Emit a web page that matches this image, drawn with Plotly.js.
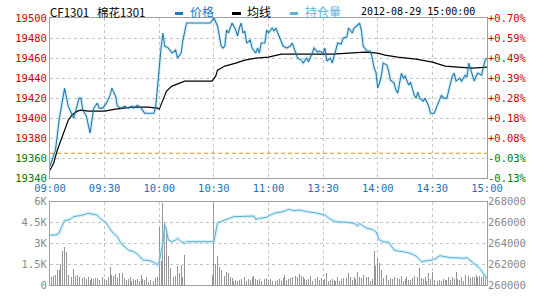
<!DOCTYPE html>
<html><head><meta charset="utf-8">
<script src="https://cdn.plot.ly/plotly-3.0.1.min.js"></script>
<style>html,body{margin:0;padding:0;background:#fff}#c{width:540px;height:300px}</style>
</head><body><div id="c"></div>
<script>
// ---- data ----
const prevSettle = 19365;
const timeTicks = [0,30,60,90,120,150,180,210,240];
const timeLabels = ['09:00','09:30','10:00','10:30','11:00','13:30','14:00','14:30','15:00'];
const priceTicks = [19340,19360,19380,19400,19420,19440,19460,19480,19500];
const pctLabels = ['-0.13%','-0.03%','+0.08%','+0.18%','+0.28%','+0.39%','+0.49%','+0.59%','+0.70%'];
const volTicks = [0,1500,3000,4500,6000];
const volLabels = ['0','1.5K','3K','4.5K','6K'];
const oiTicks = [260000,262000,264000,266000,268000];
const oiLabels = ['260000','262000','264000','266000','268000'];

const priceMin = [0,3,5,8,10,13,16,17,18,20,22,23,24,26,27,29,31,33,34,36,37,39,41,43,45,46,48,50,52,54,57,58,59,61,62,63,65,67,69,70,72,73,75,88,90,92,94,95,96,97,98,100,102,103,104,105,106,107,108,110,111,113,114,115,116,118,119,120,122,123,124,126,128,130,132,133,135,136,138,139,141,142,144,145,147,148,150,151,152,154,155,157,158,160,161,163,164,166,167,169,170,171,172,174,176,177,178,179,180,181,182,183,185,186,187,189,190,191,193,194,195,197,198,200,201,202,203,205,206,208,209,211,212,213,215,216,218,219,221,222,223,225,226,228,229,230,232,233,234,235,237,238,239,240];
const priceVal = [19352,19368,19398,19430,19412,19400,19420,19420,19408,19402,19385,19398,19410,19415,19410,19410,19415,19423,19430,19422,19412,19410,19412,19410,19412,19410,19413,19410,19405,19405,19405,19410,19432,19470,19485,19472,19470,19465,19468,19460,19465,19478,19495,19495,19500,19492,19472,19470,19472,19488,19485,19495,19488,19482,19490,19495,19485,19487,19475,19478,19470,19465,19470,19465,19475,19475,19488,19485,19490,19487,19490,19480,19472,19470,19472,19475,19465,19460,19458,19455,19460,19456,19465,19470,19466,19467,19465,19470,19457,19460,19455,19470,19475,19474,19480,19481,19490,19485,19490,19493,19495,19488,19472,19467,19467,19460,19450,19446,19430,19435,19443,19455,19453,19447,19438,19435,19428,19425,19445,19440,19442,19433,19436,19423,19420,19426,19420,19417,19420,19412,19405,19405,19410,19415,19423,19420,19420,19428,19442,19445,19437,19440,19437,19443,19441,19455,19443,19437,19442,19445,19443,19450,19458,19460];

const avgMin = [0,2,4,7,10,12,15,17,21,30,36,45,54,59,60,62,64,67,70,74,89,91,92,96,102,107,113,120,127,155,164,173,180,184,191,201,210,217,224,232,240];
const avgVal = [19348,19355,19368,19382,19398,19403,19407,19408,19407,19407,19409,19411,19411,19410,19409,19418,19427,19432,19434,19437,19437,19442,19448,19452,19455,19458,19460,19461,19464,19464,19465,19466,19465,19463,19461,19459,19456,19452,19451,19450,19451];

const oiMin = [0,3,5,6,8,11,13,16,18,21,23,26,27,30,31,34,37,39,43,46,48,51,55,58,59,60,62,63,64,65,67,69,70,72,74,75,90,92,94,96,101,106,112,113,115,119,121,124,128,131,134,137,141,145,148,151,154,157,163,167,169,170,174,177,179,181,183,186,189,190,194,198,201,204,207,210,212,214,217,220,223,227,229,231,233,236,238,240];
const oiVal = [264800,264800,264960,265440,266176,266304,266560,266624,266720,266880,266820,266720,266496,266080,265920,265120,264640,264000,263360,263200,262976,262400,262336,262080,261920,262240,264000,265760,265280,264320,264160,264320,264480,264160,264000,264160,264160,265984,266080,266240,266560,266560,266624,266304,266400,266496,266720,266944,267040,267264,267140,267200,267040,266960,266816,266720,266304,266080,266016,265920,265664,265920,265440,265350,265120,264320,264160,264100,263360,263300,263200,263040,262784,262240,262336,262400,262560,262816,262720,262624,262624,262560,262624,262336,262080,261600,261120,260640];

// volume per minute (minute 0..240), null during the 10:15-10:30 break
const volMorning = [840,552,648,720,1080,1080,1512,2472,2712,2376,720,960,600,1128,648,720,552,552,480,552,408,600,360,480,408,504,480,360,360,552,408,360,552,1272,720,648,792,480,888,552,840,480,360,408,552,312,408,360,408,312,720,408,360,552,240,360,408,312,480,552,4152,1752,5880,4440,3720,2088,1200,840,552,648,1368,840,1440,552,2160];
const volBreak = [null,null,null,null,null,null,null,null,null,null,null,null,null,null];
const volAfternoon = [720,5880,1512,2088,1272,1080,1272,648,960,840,552,480,312,360,312,360,408,360,552,312,408,360,600,648,408,360,408,312,552,408,480,360,
408,312,360,312,360,408,312,480,720,360,408,480,552,480,648,552,792,648,552,408,360,408,648,312,360,408,552,360,480,360,408,888,312,360,408,360,312,552,312,408,480,360,480,888,552,360,552,408,960,552,480,720,360,552,552,312,408,2472,1368,1920,1608,1080,480,408,720,360,480,408,552,1440,480,408,648,312,408,552,360,360,480,648,480,552,1200,480,408,552,312,888,408,960,360,408,312,360,312,408,360,360,552,360,552,408,960,408,360,552,312,720,552,648,480,552,552,720,552,648,552,720,600,2088];
const vol = volMorning.concat(volBreak, volAfternoon);
const volMin = vol.map((v,i)=>i);

// ---- styling ----
const mono = 'DejaVu Sans Mono, monospace';
const red = '#cc0000', green = '#007a00';
const priceTickText = priceTicks.map(v => `<span style="color:${v < prevSettle ? green : red}">${v}</span>`);
const pctTickText = priceTicks.map((v,i) => `<span style="color:${v < prevSettle ? green : red}">${pctLabels[i]}</span>`);
const grid = {showgrid:true, gridcolor:'#c4c4c4', griddash:'dot', gridwidth:1, zeroline:false};

const traces = [
  {x:[0,240], y:[prevSettle,prevSettle], xaxis:'x', yaxis:'y3', mode:'lines', line:{color:'#e39412', width:1.2, dash:'4px,3px'}, hoverinfo:'skip'},
  {x:priceMin, y:priceVal, xaxis:'x', yaxis:'y', mode:'lines', line:{color:'rgba(150,215,240,0.35)', width:3.5}, hoverinfo:'skip'},
  {x:avgMin, y:avgVal, xaxis:'x', yaxis:'y', mode:'lines', line:{color:'#000000', width:1.2}, name:'均线'},
  {x:priceMin, y:priceVal, xaxis:'x', yaxis:'y', mode:'lines', line:{color:'#2579a8', width:1.1}, name:'价格'},
  {x:volMin, y:vol, xaxis:'x2', yaxis:'y2', type:'bar', width:0.5, marker:{color:'#959595', line:{width:0}}, name:'成交量'},
  {x:oiMin, y:oiVal, xaxis:'x2', yaxis:'y4', mode:'lines', line:{color:'rgba(170,225,245,0.45)', width:3.5}, hoverinfo:'skip'},
  {x:oiMin, y:oiVal, xaxis:'x2', yaxis:'y4', mode:'lines', line:{color:'#5aaed0', width:1}, name:'持仓量'}
];

const L = 50, R = 487, T = 18, B = 285;
const px = x => (x - L) / (R - L);
const py = y => (B - y) / (B - T);

const layout = {
  width:540, height:300,
  margin:{l:L, r:540-R, t:T, b:300-B},
  paper_bgcolor:'#ffffff', plot_bgcolor:'#ffffff',
  showlegend:false, bargap:0,
  font:{family:mono, size:10},
  xaxis:Object.assign({domain:[0,1], range:[0,240], anchor:'y', tickmode:'array', tickvals:timeTicks, ticktext:timeLabels,
    showline:true, mirror:true, linecolor:'#a0a0a0', linewidth:1, ticks:'',
    tickfont:{family:mono, size:10.5, color:'#1f70b8'}}, grid),
  yaxis:Object.assign({domain:[py(178.3),1], range:[19340,19500], anchor:'x', tickmode:'array', tickvals:priceTicks, ticktext:priceTickText,
    showline:true, mirror:true, linecolor:'#a0a0a0', linewidth:1, ticks:'',
    tickfont:{family:mono, size:10.5}}, grid),
  yaxis3:{overlaying:'y', side:'right', anchor:'x', range:[19340,19500], tickmode:'array', tickvals:priceTicks, ticktext:pctTickText,
    showgrid:false, zeroline:false, showline:false, ticks:'', tickfont:{family:mono, size:10.5}},
  xaxis2:Object.assign({domain:[0,1], range:[0,240], anchor:'y2', tickmode:'array', tickvals:timeTicks, showticklabels:false,
    showline:true, mirror:true, linecolor:'#a0a0a0', linewidth:1, ticks:''}, grid),
  yaxis2:Object.assign({domain:[0,py(201.7)], range:[0,6000], anchor:'x2', tickmode:'array', tickvals:volTicks, ticktext:volLabels,
    showline:true, mirror:true, linecolor:'#a0a0a0', linewidth:1, ticks:'',
    tickfont:{family:mono, size:10.5, color:'#8a8a8a'}}, grid),
  yaxis4:{overlaying:'y2', side:'right', anchor:'x2', range:[260000,268000], tickmode:'array', tickvals:oiTicks, ticktext:oiLabels,
    showgrid:false, zeroline:false, showline:false, ticks:'', tickfont:{family:mono, size:10.5, color:'#8a8a8a'}},
  shapes:[
    {type:'rect', xref:'paper', yref:'paper', x0:px(175), x1:px(183), y0:py(15), y1:py(12), fillcolor:'#1a7bc0', line:{width:0}},
    {type:'rect', xref:'paper', yref:'paper', x0:px(232), x1:px(241), y0:py(15), y1:py(12), fillcolor:'#000000', line:{width:0}},
    {type:'rect', xref:'paper', yref:'paper', x0:px(290), x1:px(298), y0:py(15), y1:py(12), fillcolor:'#5ab4dc', line:{width:0}}
  ],
  annotations:[
    {xref:'paper', yref:'paper', x:px(48), y:py(12), xanchor:'left', yanchor:'middle', showarrow:false,
     text:'CF1301   棉花1301', font:{family:'Noto Sans CJK SC, sans-serif', size:11.5, color:'#000'}},
    {xref:'paper', yref:'paper', x:px(188), y:py(12), xanchor:'left', yanchor:'middle', showarrow:false,
     text:'价格', font:{family:'Noto Sans CJK SC, sans-serif', size:12, color:'#1a7bc0'}},
    {xref:'paper', yref:'paper', x:px(245), y:py(12), xanchor:'left', yanchor:'middle', showarrow:false,
     text:'均线', font:{family:'Noto Sans CJK SC, sans-serif', size:12, color:'#000'}},
    {xref:'paper', yref:'paper', x:px(303), y:py(12), xanchor:'left', yanchor:'middle', showarrow:false,
     text:'持仓量', font:{family:'Noto Sans CJK SC, sans-serif', size:12, color:'#5ab4dc'}},
    {xref:'paper', yref:'paper', x:px(359), y:py(12), xanchor:'left', yanchor:'middle', showarrow:false,
     text:'2012-08-29 15:00:00', font:{family:mono, size:10, color:'#000'}}
  ]
};

Plotly.newPlot('c', traces, layout, {staticPlot:true, displayModeBar:false});
</script></body></html>
